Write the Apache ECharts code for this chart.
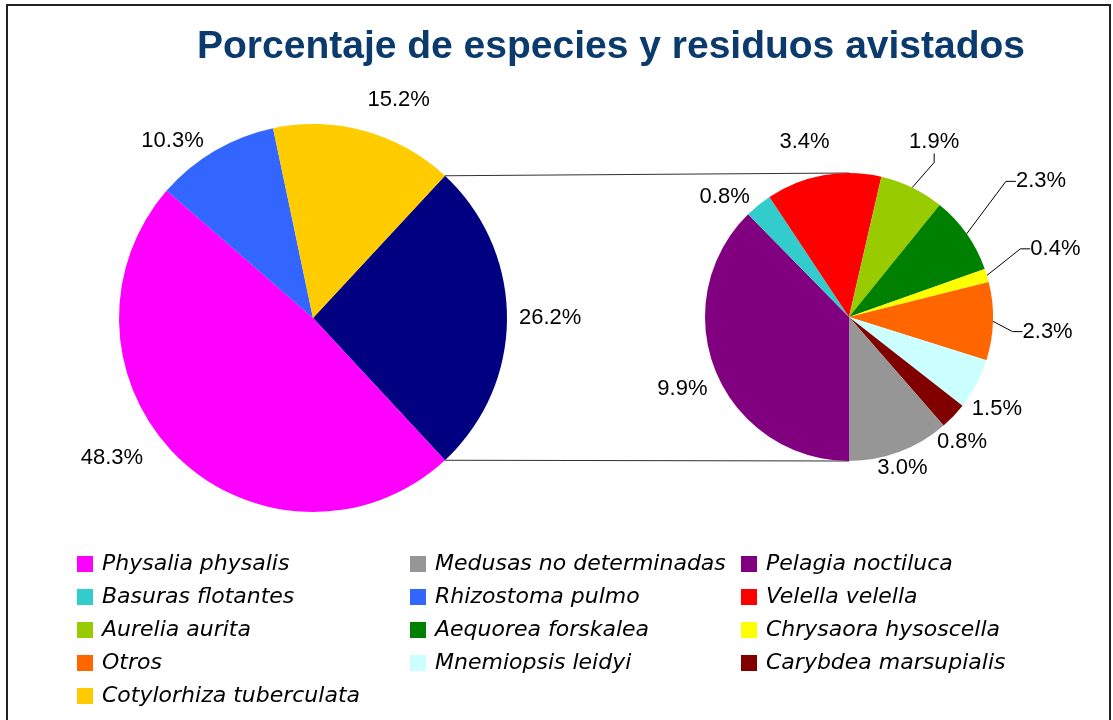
<!DOCTYPE html>
<html>
<head>
<meta charset="utf-8">
<script src="https://cdn.jsdelivr.net/npm/echarts@6/dist/echarts.min.js"></script>
<style>
  html, body { margin: 0; padding: 0; background: #fff; }
  #main { width: 1113px; height: 720px; }
</style>
</head>
<body>
<div id="main"></div>
<script>
// main pie: the first slice is the one broken out into the small pie
const mainNames = ['Resto', 'Physalia physalis', 'Rhizostoma pulmo', 'Cotylorhiza tuberculata'];
const mainValues = [26.2, 48.3, 10.3, 15.2];
const mainColors = ['#000080', '#FF00FF', '#3366FF', '#FFCC00'];

// breakdown of "Resto" (percent of the total)
const subNames = ['Pelagia noctiluca', 'Basuras flotantes', 'Velella velella', 'Aurelia aurita',
  'Aequorea forskalea', 'Chrysaora hysoscella', 'Otros', 'Mnemiopsis leidyi',
  'Carybdea marsupialis', 'Medusas no determinadas'];
const subValues = [9.9, 0.8, 3.4, 1.9, 2.3, 0.4, 2.3, 1.5, 0.8, 3.0];
const subColors = ['#800080', '#33CCCC', '#FF0000', '#99CC00', '#008000', '#FFFF00',
  '#FF6600', '#CCFFFF', '#800000', '#969696'];

// legend columns
const legendCol1 = ['Physalia physalis', 'Basuras flotantes', 'Aurelia aurita', 'Otros', 'Cotylorhiza tuberculata'];
const legendCol2 = ['Medusas no determinadas', 'Rhizostoma pulmo', 'Aequorea forskalea', 'Mnemiopsis leidyi'];
const legendCol3 = ['Pelagia noctiluca', 'Velella velella', 'Chrysaora hysoscella', 'Carybdea marsupialis'];

// label pull-out beyond the rim (px), small turn off the mid-angle (deg),
// and labels pulled out far enough get a leader line
const labelGapMain = [12, 32, 18, 28];
const labelTurnMain = [0, -11, 8, -6];
const labelGapSub = [10, 13, 25, 38, 72, 47, 30, 9, 10, 4];
const labelTurnSub = [1, 7, 4, 0, 0, 1.5, -2.5, -4, -4.5, -1];
const leaderMinGap = 30;

const mainPie = { cx: 313, cy: 318, r: 194 };
const subPie = { cx: 849, cy: 317, r: 144 };

const sum = a => a.reduce((s, v) => s + v, 0);
const mainStart = mainValues[0] / sum(mainValues) * 360 / 2;
const subStart = 270;

function makeLayout(pie, values, startAngle, gaps, turns) {
  const total = sum(values);
  return function (p) {
    const i = p.dataIndex;
    const before = sum(values.slice(0, i));
    const midDeg = startAngle - (before + values[i] / 2) / total * 360;
    const mid = midDeg * Math.PI / 180;
    const lab = (midDeg + turns[i]) * Math.PI / 180;
    const c = Math.cos(lab), s = Math.sin(lab);
    const w = p.labelRect.width, h = p.labelRect.height;
    const ext = Math.min(w / 2 / Math.max(Math.abs(c), 1e-6), h / 2 / Math.max(Math.abs(s), 1e-6));
    const d = pie.r + gaps[i] + ext;
    const x = pie.cx + d * c, y = pie.cy - d * s;
    const out = { x: x, y: y, align: 'center', verticalAlign: 'middle' };
    if (gaps[i] >= leaderMinGap) {
      const edge = [pie.cx + pie.r * Math.cos(mid), pie.cy - pie.r * Math.sin(mid)];
      let end, elbow;
      if (Math.abs(s) > Math.abs(c) * 1.5) {
        end = [x, y + (s > 0 ? h / 2 : -h / 2)];
        elbow = [x, end[1] + (s > 0 ? 9 : -9)];
      } else {
        end = [x + (c > 0 ? -w / 2 : w / 2), y];
        elbow = [end[0] + (c > 0 ? -10 : 10), y];
      }
      out.labelLinePoints = [edge, elbow, end];
    }
    return out;
  };
}

const labelStyle = {
  show: true,
  position: 'outside',
  formatter: p => p.value.toFixed(1) + '%',
  fontFamily: '"Liberation Sans Narrow", "Liberation Sans", sans-serif',
  fontSize: 22,
  color: '#000'
};

const mainData = mainNames.map((n, i) => ({
  name: n, value: mainValues[i], itemStyle: { color: mainColors[i] }
}));
const subData = subNames.map((n, i) => ({
  name: n, value: subValues[i], itemStyle: { color: subColors[i] },
  labelLine: { show: labelGapSub[i] >= leaderMinGap }
}));

// connector lines from the broken-out slice to the small pie
const half = mainStart * Math.PI / 180;
const topA = [mainPie.cx + mainPie.r * Math.cos(half), mainPie.cy - mainPie.r * Math.sin(half)];
const botA = [mainPie.cx + mainPie.r * Math.cos(half), mainPie.cy + mainPie.r * Math.sin(half)];
const topB = [subPie.cx, subPie.cy - subPie.r];
const botB = [subPie.cx, subPie.cy + subPie.r];

const legendCommon = {
  orient: 'vertical',
  top: 553,
  padding: 0,
  itemWidth: 16,
  itemHeight: 16,
  itemGap: 11,
  icon: 'rect',
  selectedMode: false,
  textStyle: {
    fontFamily: '"DejaVu Sans", sans-serif',
    fontStyle: 'italic',
    fontSize: 22,
    lineHeight: 22,
    color: '#000',
    padding: [0, 0, 0, 4]
  }
};

const chart = echarts.init(document.getElementById('main'));
chart.setOption({
  animation: false,
  backgroundColor: '#fff',
  title: {
    text: 'Porcentaje de especies y residuos avistados',
    left: 197,
    top: 28,
    padding: 0,
    textStyle: {
      fontFamily: '"Liberation Sans", Arial, sans-serif',
      fontWeight: 'bold',
      fontSize: 39,
      color: '#0b3a6c'
    }
  },
  legend: [
    Object.assign({ left: 77, data: legendCol1 }, legendCommon),
    Object.assign({ left: 410, data: legendCol2 }, legendCommon),
    Object.assign({ left: 741, data: legendCol3 }, legendCommon)
  ],
  graphic: [
    {
      type: 'rect', silent: true,
      shape: { x: 7, y: 5, width: 1103, height: 740 },
      style: { fill: 'none', stroke: '#222', lineWidth: 2 }
    },
    {
      type: 'polyline', silent: true,
      shape: { points: [topA, topB] },
      style: { fill: 'none', stroke: '#333', lineWidth: 1.2 }
    },
    {
      type: 'polyline', silent: true,
      shape: { points: [botA, botB] },
      style: { fill: 'none', stroke: '#333', lineWidth: 1.2 }
    }
  ],
  series: [
    {
      type: 'pie',
      center: [mainPie.cx, mainPie.cy],
      radius: [0, mainPie.r],
      startAngle: mainStart,
      clockwise: true,
      avoidLabelOverlap: false,
      label: labelStyle,
      labelLine: { show: false },
      labelLayout: makeLayout(mainPie, mainValues, mainStart, labelGapMain, labelTurnMain),
      itemStyle: { borderWidth: 0 },
      emphasis: { disabled: true },
      data: mainData
    },
    {
      type: 'pie',
      center: [subPie.cx, subPie.cy],
      radius: [0, subPie.r],
      startAngle: subStart,
      clockwise: true,
      avoidLabelOverlap: false,
      label: labelStyle,
      labelLine: { length: 5, length2: 5, smooth: false, lineStyle: { color: '#000', width: 1 } },
      labelLayout: makeLayout(subPie, subValues, subStart, labelGapSub, labelTurnSub),
      itemStyle: { borderWidth: 0 },
      emphasis: { disabled: true },
      data: subData
    }
  ]
});
</script>
</body>
</html>
